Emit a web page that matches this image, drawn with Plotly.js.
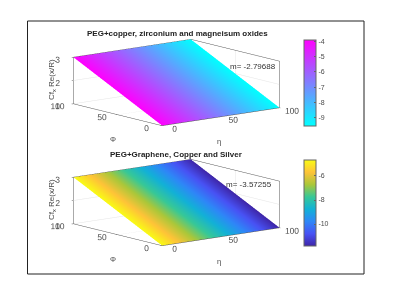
<!DOCTYPE html>
<html><head><meta charset="utf-8">
<script src="https://cdn.plot.ly/plotly-3.0.1.min.js"></script>
<style>html,body{margin:0;padding:0;background:#fff}#c{width:396px;height:286px}</style></head>
<body><div id="c"></div>
<script>
const eta = [0, 25, 50, 75, 100];
const phi = [0, 100];
const heightRows = [[1,1,1,1,1],[3,3,3,3,3]];
const colorTop = [-3.92, -5.32, -6.72, -8.13, -9.53];
const colorBottom = [-4.67, -6.46, -8.25, -10.04, -11.83];
const titleTop = "PEG+copper, zirconium and magneisum oxides";
const titleBottom = "PEG+Graphene, Copper and Silver";
const slopeTop = "m= -2.79688";
const slopeBottom = "m= -3.57255";
const ticksTop = [-4,-5,-6,-7,-8,-9];
const ticksBottom = [-6,-8,-10];
const zTitle = 'Cf<sub>x</sub> Re(x/R)';
const cool = [[0,'#00ffff'],[1,'#ff00ff']];
const parula = [[0,'rgb(62,38,168)'],[1/7,'rgb(72,82,244)'],[2/7,'rgb(46,135,247)'],[3/7,'rgb(18,177,214)'],[4/7,'rgb(55,200,151)'],[5/7,'rgb(171,199,57)'],[6/7,'rgb(254,195,56)'],[1,'rgb(249,251,21)']];
const W=396,H=286;
const font='"Liberation Sans",Arial,sans-serif', tc='#4a4a4a';
function surf(colors,scale,scene,cy,ticks){
  return {type:'surface',x:eta,y:phi,z:heightRows,surfacecolor:[colors,colors],scene:scene,
    colorscale:scale,cmin:colors[colors.length-1],cmax:colors[0],hoverinfo:'skip',
    lighting:{ambient:1,diffuse:0,specular:0,roughness:1,fresnel:0},
    colorbar:{x:304/W,xanchor:'left',y:1-cy/H,yanchor:'middle',len:86/H,lenmode:'fraction',thickness:12,thicknessmode:'pixels',
      outlinecolor:'#666',outlinewidth:1,ticks:'inside',ticklen:2,tickcolor:'#666',tickmode:'array',tickvals:ticks,ticktext:ticks.map(String),
      tickfont:{family:font,size:7,color:tc},xpad:0,ypad:0}};
}
function ax(dtick,range){
  return {range:range,dtick:dtick,autorange:false,showbackground:false,showgrid:true,gridcolor:'#e4e4e4',gridwidth:1,
    showline:true,linecolor:'#555',linewidth:1,mirror:true,ticks:'outside',ticklen:2,tickcolor:'#555',zeroline:false,showspikes:false,tickangle:0,
    tickfont:{family:font,size:10,color:tc},title:{text:''}};
}
function scene(top,bot){
  return {domain:{x:[15/W,338/W],y:[1-bot/H,1-top/H]},aspectmode:'manual',aspectratio:{x:2.6,y:2.5,z:0.825},
    camera:{projection:{type:'orthographic'},up:{x:0,y:0,z:1},center:{x:0,y:0,z:0},eye:{x:-0.606*2,y:-0.771*2,z:0.194*2}},
    xaxis:ax(50,[0,100]),yaxis:ax(50,[0,100]),zaxis:ax(1,[1,3])};
}
function note(text,x,y,bold,size,angle,col){
  return {text:text,xref:'paper',yref:'paper',x:x/W,y:1-y/H,showarrow:false,xanchor:'center',yanchor:'middle',textangle:angle||0,
    font:{family:font,size:size,color:col||(bold?'#222':'#333')}};
}
var anns=[note('<b>'+titleTop+'</b>',177,34,true,8),note('<b>'+titleBottom+'</b>',176,154,true,8),
    note(slopeTop,253,66,false,8),note(slopeBottom,249,184,false,8),
    note(zTitle,52,80,false,8,-90,tc),note(zTitle,52,200,false,8,-90,tc),
    note('Φ',113,139,false,7.5,0,tc),note('Φ',113,259,false,7.5,0,tc),
    note('η',219,141,false,7.5,0,tc),note('η',219,261,false,7.5,0,tc)];
Plotly.newPlot('c',[surf(colorTop,cool,'scene',83,ticksTop),surf(colorBottom,parula,'scene2',203,ticksBottom)],{
  width:W,height:H,margin:{l:0,r:0,t:0,b:0},paper_bgcolor:'#fff',showlegend:false,
  scene:scene(25,140),scene2:scene(145,260),
  shapes:[{type:'rect',xref:'paper',yref:'paper',x0:27.5/W,x1:364/W,y0:1-274/H,y1:1-21/H,line:{color:'#222',width:1},fillcolor:'rgba(0,0,0,0)'}],
  annotations:anns
},{displayModeBar:false});
</script></body></html>
